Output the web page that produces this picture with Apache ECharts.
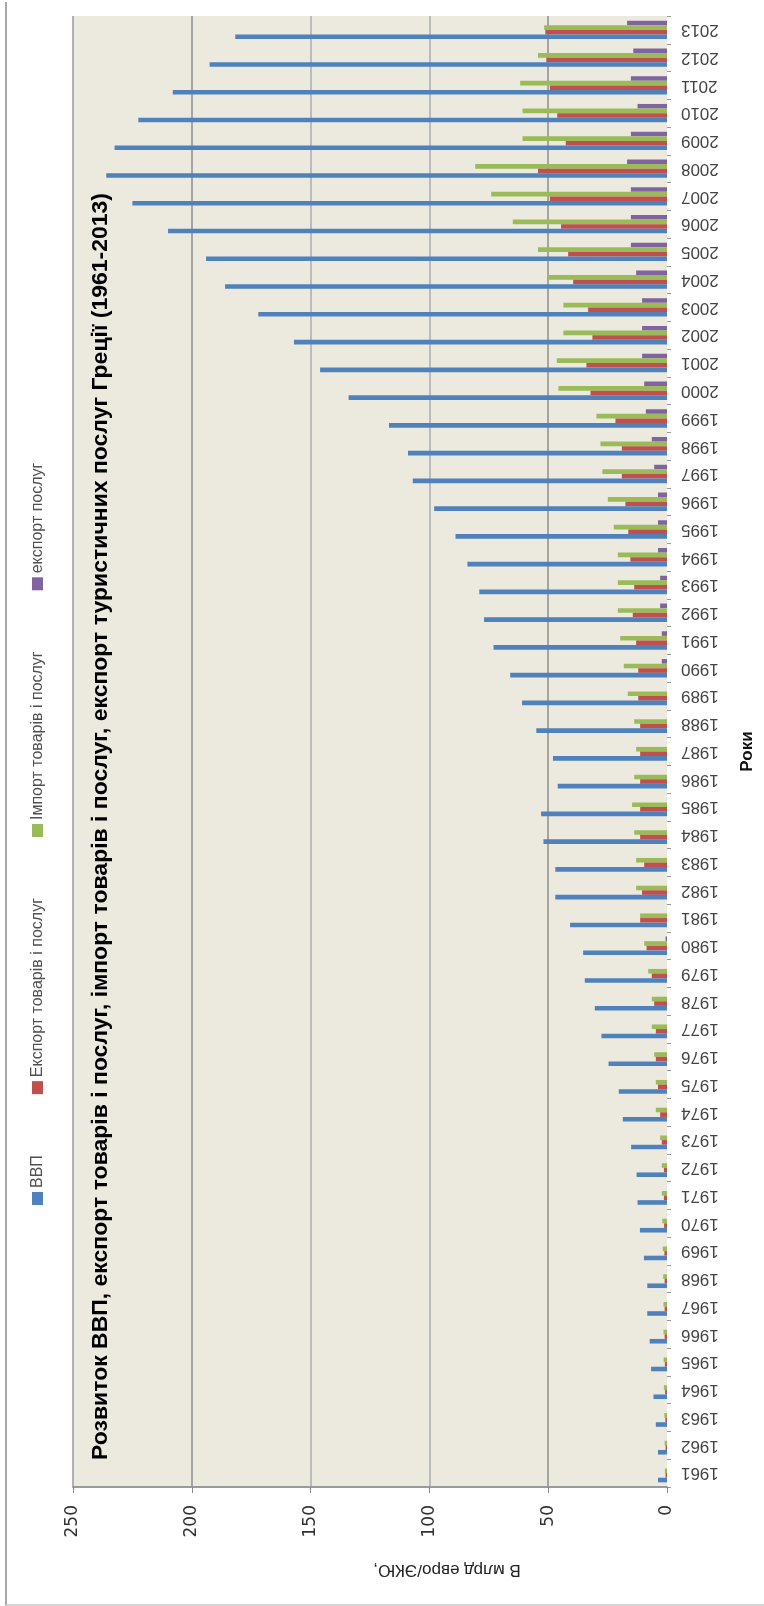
<!DOCTYPE html>
<html lang="uk">
<head>
<meta charset="utf-8">
<title>Розвиток ВВП Греції</title>
<script src="https://cdn.jsdelivr.net/npm/echarts@6/dist/echarts.min.js"></script>
<style>
  html,body{margin:0;padding:0;background:#fff;overflow:hidden;}
  .frame{position:absolute;left:5px;top:2px;width:790px;height:1602px;border-left:2px solid #a9a9a9;border-bottom:2px solid #d4d4d4;}
  #main{position:absolute;left:0;top:0;width:764px;height:1606px;}
</style>
</head>
<body>
<div class="frame"></div>
<div id="main"></div>
<script>
// роки (категорії)
var years = ['1961','1962','1963','1964','1965','1966','1967','1968','1969','1970',
  '1971','1972','1973','1974','1975','1976','1977','1978','1979','1980',
  '1981','1982','1983','1984','1985','1986','1987','1988','1989','1990',
  '1991','1992','1993','1994','1995','1996','1997','1998','1999','2000',
  '2001','2002','2003','2004','2005','2006','2007','2008','2009','2010',
  '2011','2012','2013'];

// ВВП
var gdp = [3.8, 3.8, 4.7, 5.7, 6.7, 7.3, 8.3, 8.3, 9.7, 11.4,
  12.4, 12.8, 15.1, 18.6, 20.3, 24.6, 27.6, 30.4, 34.6, 35.3,
  40.8, 47, 47, 52, 53, 46, 48, 55, 61, 66,
  73, 77, 79, 84, 89, 98, 107, 109, 117, 134,
  146, 157, 172, 186, 194, 210, 225, 236, 232.5, 222.5,
  208, 192.5, 181.7];

// Експорт товарів і послуг
var exportGS = [0.6, 0.6, 0.7, 0.8, 0.9, 1.0, 1.0, 1.0, 1.1, 1.2,
  1.3, 1.3, 2.2, 2.9, 3.8, 4.7, 4.7, 5.4, 6.4, 8.6,
  11.3, 10.5, 9.6, 11.3, 11.3, 11.3, 11.3, 11.3, 12.1, 12.1,
  13, 14.4, 13.8, 15.4, 16.3, 17.5, 19, 19, 21.7, 32.2,
  33.9, 31.4, 33.2, 39.5, 41.6, 44.6, 49.3, 54.3, 42.6, 46.2,
  49.3, 50.8, 51.2];

// Імпорт товарів і послуг
var importGS = [0.9, 1.0, 1.1, 1.3, 1.4, 1.5, 1.5, 1.6, 1.8, 2.0,
  2.2, 2.2, 2.9, 4.7, 4.7, 5.4, 6.4, 6.4, 7.9, 9.6,
  11.3, 13, 13, 13.8, 14.7, 13.8, 13, 13.8, 16.5, 18.2,
  19.7, 20.7, 20.7, 20.7, 22.4, 24.9, 27.2, 28, 29.7, 45.7,
  46.4, 43.6, 43.6, 50, 54.3, 64.9, 74, 80.7, 60.8, 60.8,
  61.8, 54.3, 51.7];

// експорт послуг
var exportServ = [0, 0, 0, 0, 0, 0, 0, 0, 0, 0,
  0, 0, 0, 0, 0, 0, 0, 0, 0, 0.6,
  0, 0, 0, 0, 0, 0, 0, 0, 0, 2.2,
  2.2, 2.9, 2.9, 3.8, 3.8, 3.8, 5.4, 6.4, 8.9, 9.6,
  10.5, 10.5, 10.5, 13, 15.2, 15.2, 15.2, 16.8, 15.2, 12.4,
  15.2, 14.2, 16.8];

var valueTicks = [0, 50, 100, 150, 200, 250];
var seriesNames = ['ВВП', 'Експорт товарів і послуг', 'Імпорт товарів і послуг', 'експорт послуг'];
var colors = ['#4F81BD', '#C0504D', '#9BBB59', '#8064A2'];

var titleText = 'Розвиток ВВП, експорт товарів і послуг, імпорт товарів і послуг, експорт туристичних послуг Греції (1961-2013)';

function textWidth(txt, font) {
  var ctx = document.createElement('canvas').getContext('2d');
  ctx.font = font;
  return ctx.measureText(txt).width;
}

var titleFont = 'bold 22px "Liberation Sans"';
var titleScale = 1267 / textWidth(titleText, titleFont);

// легенда (повернута, читається знизу вгору), рівні проміжки між пунктами
var legendFont = '16px "Liberation Sans"';
var legendStart = 1205, legendGap = 61, swatch = 13, swatchPad = 4;
var legendGraphics = [];
var pos = legendStart;
seriesNames.forEach(function (name, i) {
  legendGraphics.push({
    type: 'group',
    x: 38, y: pos,
    rotation: Math.PI / 2,
    children: [
      { type: 'rect', shape: { x: 0, y: -6, width: swatch, height: 11 }, style: { fill: colors[i] } },
      { type: 'text', x: swatch + swatchPad, y: 0, style: { text: name, font: legendFont, fill: '#505050', verticalAlign: 'middle', align: 'left' } }
    ]
  });
  pos -= swatch + swatchPad + textWidth(name, legendFont) + legendGap;
});

var myChart = echarts.init(document.getElementById('main'), null, { renderer: 'canvas' });

// у горизонтальних стовпчиках перша серія йде згори, тому порядок обернено
var barData = [exportServ, importGS, exportGS, gdp];
var barIdx = [3, 2, 1, 0];

var option = {
  animation: false,
  backgroundColor: 'transparent',
  grid: {
    left: 73, right: 91, top: 16, bottom: 119,
    show: true, backgroundColor: '#ECEADF', borderWidth: 0
  },
  xAxis: {
    type: 'value',
    inverse: true,
    min: 0, max: 250, interval: 50,
    axisLine: { show: true, lineStyle: { color: '#9a9a9a', width: 2 } },
    axisTick: { show: true, length: 6, lineStyle: { color: '#888' } },
    axisLabel: {
      rotate: 90, margin: 18, color: '#333',
      fontFamily: 'DejaVu Sans', fontSize: 17,
      formatter: function (v) { return valueTicks.indexOf(v) >= 0 ? String(v) : ''; }
    },
    splitLine: {
      show: true,
      lineStyle: { color: ['rgba(0,0,0,0)', '#8c8c8c', '#ababab', '#ababab', '#8c8c8c', '#9a9a9a'], width: 1.5 }
    }
  },
  yAxis: {
    type: 'category',
    position: 'right',
    data: years,
    name: 'Роки',
    nameLocation: 'middle',
    nameRotate: 90,
    nameGap: 72,
    nameTextStyle: { fontFamily: 'Liberation Sans', fontWeight: 'bold', fontSize: 17, color: '#111' },
    axisLine: { show: false },
    axisTick: { show: true, length: 4, interval: 0, lineStyle: { color: '#999' } },
    axisLabel: {
      interval: 0, rotate: 180, margin: 14, color: '#444',
      fontFamily: 'Liberation Sans', fontSize: 17
    },
    splitLine: { show: false }
  },
  series: barIdx.map(function (k, j) {
    return {
      name: seriesNames[k], type: 'bar', data: barData[j],
      barWidth: 4.6, barGap: '0%', itemStyle: { color: colors[k] }
    };
  }),
  graphic: legendGraphics.concat([
    {
      type: 'text',
      x: 101, y: 1460,
      rotation: Math.PI / 2,
      scaleX: titleScale,
      style: { text: titleText, font: titleFont, fill: '#000', align: 'left', verticalAlign: 'middle' }
    },
    {
      type: 'text',
      x: 447, y: 1570,
      rotation: Math.PI,
      style: { text: 'В млрд евро/ЭКЮ,', font: '17px "Liberation Sans"', fill: '#222', align: 'center', verticalAlign: 'middle' }
    }
  ])
};

myChart.setOption(option);
</script>
</body>
</html>
